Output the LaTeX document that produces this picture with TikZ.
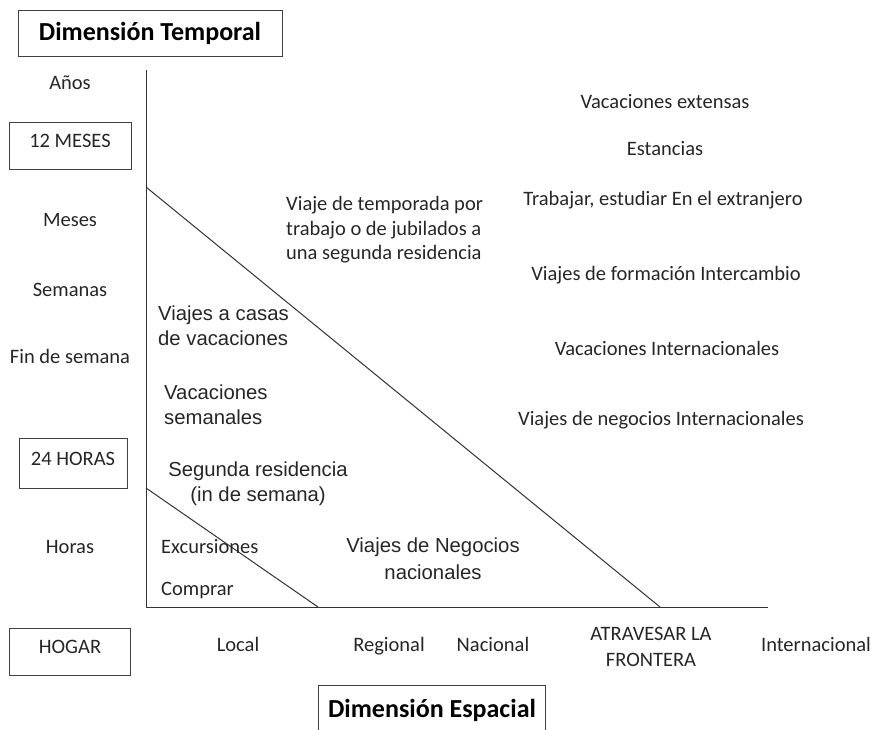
\documentclass[tikz,border=0pt]{standalone}
\usepackage{fontspec}
\setmainfont{Carlito}
\newfontfamily\arialfont{Liberation Sans}
\usetikzlibrary{positioning}
\tikzset{
    % plain label, Calibri-like
    lbl/.style={inner sep=0pt, text=black!85, font=\fontsize{20.5}{24.5}\selectfont},
    % single line: node centre on the middle of the letters
    one/.style={text height=0.72em, text depth=0.06em, yshift=-3pt},
    % single line in a box: letters sit a little high
    inbox/.style={text height=0.7em, text depth=0.22em},
    % Arial-like label inside the triangle
    alb/.style={inner sep=0pt, text=black!85, font=\arialfont\fontsize{20.3}{25}\selectfont},
    % framed box
    boxed/.style={draw=black!75, line width=0.9pt, inner sep=0pt},
    title/.style={boxed, font=\bfseries\fontsize{26}{30}\selectfont}
}
\begin{document}
\begin{tikzpicture}[x=1pt, y=-1pt]
    \useasboundingbox (0,0) rectangle (875,729);
    % axes and diagonals
    \coordinate (top) at (146,70);
    \coordinate (origin) at (146,607);
    \coordinate (right) at (768,607);
    \coordinate (bigA) at (146,187);
    \coordinate (bigB) at (660,607);
    \coordinate (smallA) at (146,488);
    \coordinate (smallB) at (318,607);
    \begin{scope}[line width=1pt, black!80]
        \draw (top) -- (origin) -- (right);
        \draw (bigA) -- (bigB);
        \draw (smallA) -- (smallB);
    \end{scope}
    % boxes
    \node[title, minimum width=264pt, minimum height=46pt] (temporal) at (150,33) {Dimensión Temporal};
    \node[title, minimum width=227pt, minimum height=50pt] (espacial) at (432,710) {Dimensión Espacial};
    \node[boxed, lbl, inbox, minimum width=122pt, minimum height=47pt] (meses12) at (70,145.5) {12 MESES};
    \node[boxed, lbl, inbox, minimum width=108pt, minimum height=50pt] (horas24) at (73,463) {24 HORAS};
    \node[boxed, lbl, inbox, minimum width=121pt, minimum height=47pt] (hogar) at (70,651.5) {HOGAR};
    % time scale
    \foreach \t/\y [count=\i] in {Años/83, Meses/220, Semanas/290, Fin de semana/357, Horas/547} {
        \node[lbl, one] (t\i) at (70,\y) {\t};
    }
    % space scale
    \foreach \s/\x [count=\i] in {Local/238, Regional/389, Nacional/493, Internacional/816} {
        \node[lbl, one] (s\i) at (\x,645) {\s};
    }
    \node[lbl, align=center, font=\fontsize{20.5}{26}\selectfont] (frontera) at (651,647) {ATRAVESAR LA\\FRONTERA};
    % inside the small triangle
    \node[lbl, one, anchor=west] (excursiones) at (161,547) {Excursiones};
    \node[lbl, one, anchor=west] (comprar) at (161,589) {Comprar};
    % inside the big triangle
    \node[alb, anchor=west, align=left] (casas) at (158,326) {Viajes a casas\\de vacaciones};
    \node[alb, anchor=west, align=left] (semanales) at (164,405) {Vacaciones\\semanales};
    \node[alb, align=center] (segunda) at (258,484) {Segunda residencia\\(in de semana)};
    \node[alb, align=center, font=\arialfont\fontsize{20.3}{27}\selectfont] (negocios) at (433,559) {Viajes de Negocios\\nacionales};
    % outside the big triangle
    \node[lbl, anchor=west, align=left] (temporada) at (286,230) {Viaje de temporada por\\trabajo o de jubilados a\\una segunda residencia};
    \node[lbl, one] (extensas) at (665,102) {Vacaciones extensas};
    \node[lbl, one] (estancias) at (665,149) {Estancias};
    \node[lbl, one] (trabajar) at (663,199) {Trabajar, estudiar En el extranjero};
    \node[lbl, one] (formacion) at (666,274) {Viajes de formación Intercambio};
    \node[lbl, one] (internac) at (667,349) {Vacaciones Internacionales};
    \node[lbl, one] (negint) at (661,419) {Viajes de negocios Internacionales};
\end{tikzpicture}
\end{document}
